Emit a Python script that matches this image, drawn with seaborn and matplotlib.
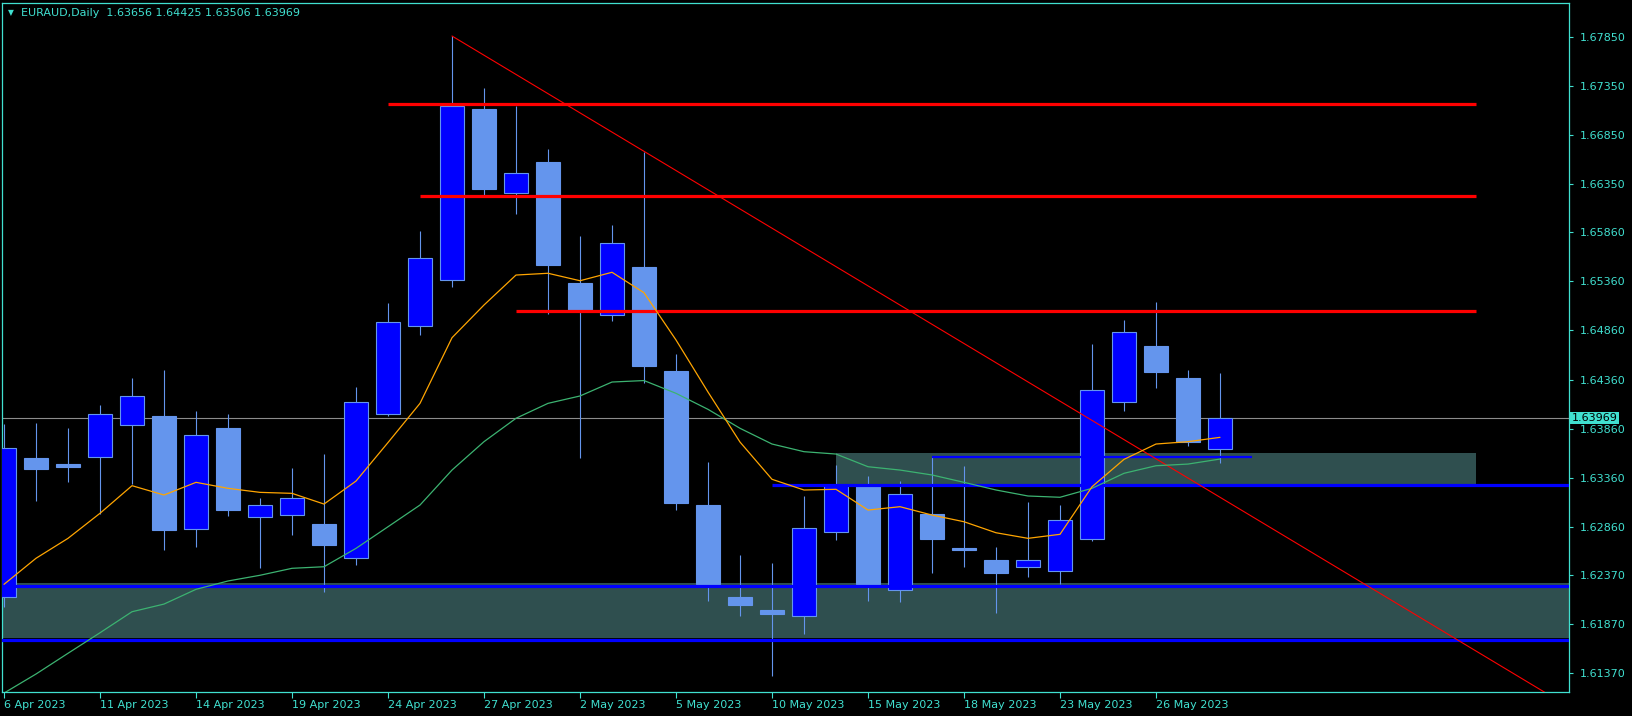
import numpy as np
import pandas as pd
import matplotlib
matplotlib.use("Agg")
import matplotlib.pyplot as plt
import matplotlib.transforms as mtransforms
import seaborn as sns

# ---------------- data ----------------
dates = ["2023-04-06", "2023-04-07", "2023-04-10", "2023-04-11", "2023-04-12", "2023-04-13",
         "2023-04-14", "2023-04-17", "2023-04-18", "2023-04-19", "2023-04-20", "2023-04-21",
         "2023-04-24", "2023-04-25", "2023-04-26", "2023-04-27", "2023-04-28", "2023-05-01",
         "2023-05-02", "2023-05-03", "2023-05-04", "2023-05-05", "2023-05-08", "2023-05-09",
         "2023-05-10", "2023-05-11", "2023-05-12", "2023-05-15", "2023-05-16", "2023-05-17",
         "2023-05-18", "2023-05-19", "2023-05-22", "2023-05-23", "2023-05-24", "2023-05-25",
         "2023-05-26", "2023-05-29", "2023-05-30"]

opens = [1.62150, 1.63562, 1.63497, 1.63575, 1.63901, 1.63989, 1.62842, 1.63867, 1.62958, 1.62978,
         1.62890, 1.62541, 1.64006, 1.64902, 1.65370, 1.67114, 1.66256, 1.66575, 1.65343, 1.65014,
         1.65506, 1.64447, 1.63083, 1.62147, 1.62014, 1.61950, 1.62805, 1.63277, 1.62215, 1.62992,
         1.62645, 1.62523, 1.62449, 1.62408, 1.62734, 1.64129, 1.64702, 1.64376, 1.63656]
highs = [1.63908, 1.63918, 1.63867, 1.64101, 1.64376, 1.64457, 1.64040, 1.64009, 1.63154, 1.63460,
         1.63602, 1.64284, 1.65139, 1.65872, 1.67857, 1.67328, 1.67145, 1.66707, 1.65821, 1.65933,
         1.66679, 1.64617, 1.63521, 1.62574, 1.62493, 1.63175, 1.63490, 1.63378, 1.63327, 1.63569,
         1.63477, 1.62656, 1.63114, 1.63083, 1.64722, 1.64966, 1.65149, 1.64457, 1.64425]
lows = [1.62048, 1.63127, 1.63317, 1.62992, 1.63297, 1.62625, 1.62656, 1.62974, 1.62445, 1.62781,
        1.62201, 1.62476, 1.63989, 1.64817, 1.65305, 1.66242, 1.66048, 1.65027, 1.63562, 1.64959,
        1.64328, 1.63035, 1.62109, 1.61956, 1.61346, 1.61773, 1.62730, 1.62109, 1.62099, 1.62394,
        1.62455, 1.61987, 1.62353, 1.62276, 1.62720, 1.64043, 1.64277, 1.63684, 1.63506]
closes = [1.63660, 1.63453, 1.63473, 1.64006, 1.64190, 1.62829, 1.63793, 1.63032, 1.63080, 1.63151,
          1.62679, 1.64129, 1.64943, 1.65594, 1.67145, 1.66303, 1.66460, 1.65526, 1.65068, 1.65747,
          1.64501, 1.63107, 1.62276, 1.62068, 1.61977, 1.62846, 1.63292, 1.62276, 1.63192, 1.62740,
          1.62628, 1.62394, 1.62523, 1.62927, 1.64251, 1.64841, 1.64440, 1.63724, 1.63969]

ma_fast = [1.62276, 1.62541, 1.62744, 1.62999, 1.63280, 1.63185, 1.63314, 1.63253, 1.63212, 1.63202,
           1.63093, 1.63327, 1.63719, 1.64118, 1.64786, 1.65119, 1.65424, 1.65442, 1.65366, 1.65452,
           1.65244, 1.64763, 1.64233, 1.63724, 1.63345, 1.63236, 1.63243, 1.63032, 1.63066, 1.62981,
           1.62913, 1.62801, 1.62744, 1.62785, 1.63269, 1.63548, 1.63704, 1.63728, 1.63772]
ma_slow = [1.61169, 1.61363, 1.61574, 1.61783, 1.61997, 1.62075, 1.62225, 1.62310, 1.62368, 1.62439,
           1.62455, 1.62642, 1.62862, 1.63083, 1.63439, 1.63728, 1.63966, 1.64118, 1.64193, 1.64335,
           1.64350, 1.64220, 1.64057, 1.63864, 1.63704, 1.63626, 1.63602, 1.63473, 1.63439, 1.63389,
           1.63314, 1.63236, 1.63175, 1.63162, 1.63253, 1.63406, 1.63483, 1.63500, 1.63551]

ytick_values = [1.67850, 1.67350, 1.66850, 1.66350, 1.65860, 1.65360, 1.64860,
                1.64360, 1.63860, 1.63360, 1.62860, 1.62370, 1.61870, 1.61370]

symbol_title = "EURAUD,Daily  1.63656 1.64425 1.63506 1.63969"
last_price = 1.63969

resistance_levels = [1.67162, 1.66225, 1.65055]
resistance_start = [12, 13, 16]
levels_end = 46

lower_zone = [1.61732, 1.62286]
lower_zone_lines = [1.62256, 1.61706]
upper_zone = [1.63292, 1.63612]
upper_zone_span = [26, 46]
support_line = 1.63292
support_start = 24
short_line = 1.63572
short_span = [29, 39]
trend_x = [14, 40.5]
trend_y = [1.67857, 1.62673]

# ---------------- style ----------------
sns.set_style("dark")
TURQ = "#40E0D0"
plt.rcParams["font.family"] = ["DejaVu Sans"]
plt.rcParams["axes.grid"] = False

W, H = 1633, 716
fig = plt.figure(figsize=(W / 100, H / 100), dpi=100, facecolor="black")
ax = fig.add_axes([2.5 / W, 24 / H, 1566.5 / W, 689.5 / H])
ax.set_facecolor("black")

n = len(dates)
df = pd.DataFrame({
    "idx": np.arange(n),
    "date": pd.to_datetime(dates),
    "open": opens, "high": highs, "low": lows, "close": closes,
    "ma_fast": ma_fast, "ma_slow": ma_slow,
})

XMIN, XMAX = -0.047, 48.906
YMIN, YMAX = 1.61180, 1.68198

# zones
ax.fill_between([XMIN - 1, XMAX + 1], lower_zone[0], lower_zone[1], color="#2F4F4F", lw=0, zorder=1)
ax.fill_between(upper_zone_span, upper_zone[0], upper_zone[1], color="#2F4F4F", lw=0, zorder=1)

# current price line
ax.axhline(last_price, color="#8C8C8C", lw=0.8, zorder=1.5)

# candles
o = df["open"].to_numpy(); c = df["close"].to_numpy()
bull = c >= o
ax.vlines(df["idx"], df["low"], df["high"], color="#6495ED", lw=0.8, zorder=2)
ax.bar(df["idx"], np.abs(c - o), bottom=np.minimum(o, c), width=0.72,
       color=np.where(bull, "#0000FF", "#6495ED"), edgecolor="#6495ED",
       linewidth=0.8, zorder=3)

# horizontal levels
for lvl, st in zip(resistance_levels, resistance_start):
    ax.hlines(lvl, st, levels_end, color="#FF0000", lw=2.3, zorder=4)
for lvl in lower_zone_lines:
    ax.hlines(lvl, XMIN - 1, XMAX + 1, color="#0000FF", lw=2.3, zorder=4)
ax.hlines(support_line, support_start, XMAX + 1, color="#0000FF", lw=2.3, zorder=4)
ax.hlines(short_line, short_span[0], short_span[1], color="#0000FF", lw=1.6, zorder=4)

# trend line (ray to the right)
slope = (trend_y[1] - trend_y[0]) / (trend_x[1] - trend_x[0])
tx = np.array([trend_x[0], XMAX + 1])
ax.plot(tx, trend_y[0] + slope * (tx - trend_x[0]), color="#FF0000", lw=0.8, zorder=4)

# moving averages
sns.lineplot(data=df, x="idx", y="ma_slow", ax=ax, color="#3CB371", lw=0.9, zorder=5, legend=False)
sns.lineplot(data=df, x="idx", y="ma_fast", ax=ax, color="#FFA500", lw=0.9, zorder=5, legend=False)

ax.set_xlim(XMIN, XMAX)
ax.set_ylim(YMIN, YMAX)
ax.set_xlabel(""); ax.set_ylabel("")

# axes decoration
for sp in ax.spines.values():
    sp.set_color(TURQ); sp.set_linewidth(0.9); sp.set_visible(True)
ax.yaxis.tick_right()
ax.set_yticks(ytick_values)
ax.set_yticklabels([f"{v:.5f}" for v in ytick_values])
ax.tick_params(axis="y", colors=TURQ, labelcolor=TURQ, length=3, width=0.8, pad=5,
               labelsize=8, direction="out", right=True, left=False)
xt = df["idx"].to_numpy()[::3][:13]
ax.set_xticks(xt)
ax.set_xticklabels([f"{d.day} {d.strftime('%b %Y')}" for d in df["date"].iloc[xt]])
ax.tick_params(axis="x", colors=TURQ, labelcolor=TURQ, length=4, width=0.8, pad=1.5,
               labelsize=8, direction="out", bottom=True)
for lbl in ax.get_xticklabels():
    lbl.set_horizontalalignment("left")

# last price tag
trans = mtransforms.blended_transform_factory(ax.transAxes, ax.transData)
ax.text(1.0017, last_price, f"{last_price:.5f}", transform=trans, ha="left", va="center",
        fontsize=8, color="black", zorder=10, clip_on=False,
        bbox=dict(boxstyle="square,pad=0.12", fc=TURQ, ec="none"))

# title
fig.text(11 / W, 1 - 12.5 / H, "\u25BC", fontsize=5.5, color=TURQ, ha="center", va="center")
fig.text(20.7 / W, 1 - 12.7 / H, symbol_title, fontsize=8, color=TURQ, ha="left", va="center")

fig.savefig("out.png", dpi=100, facecolor="black")
